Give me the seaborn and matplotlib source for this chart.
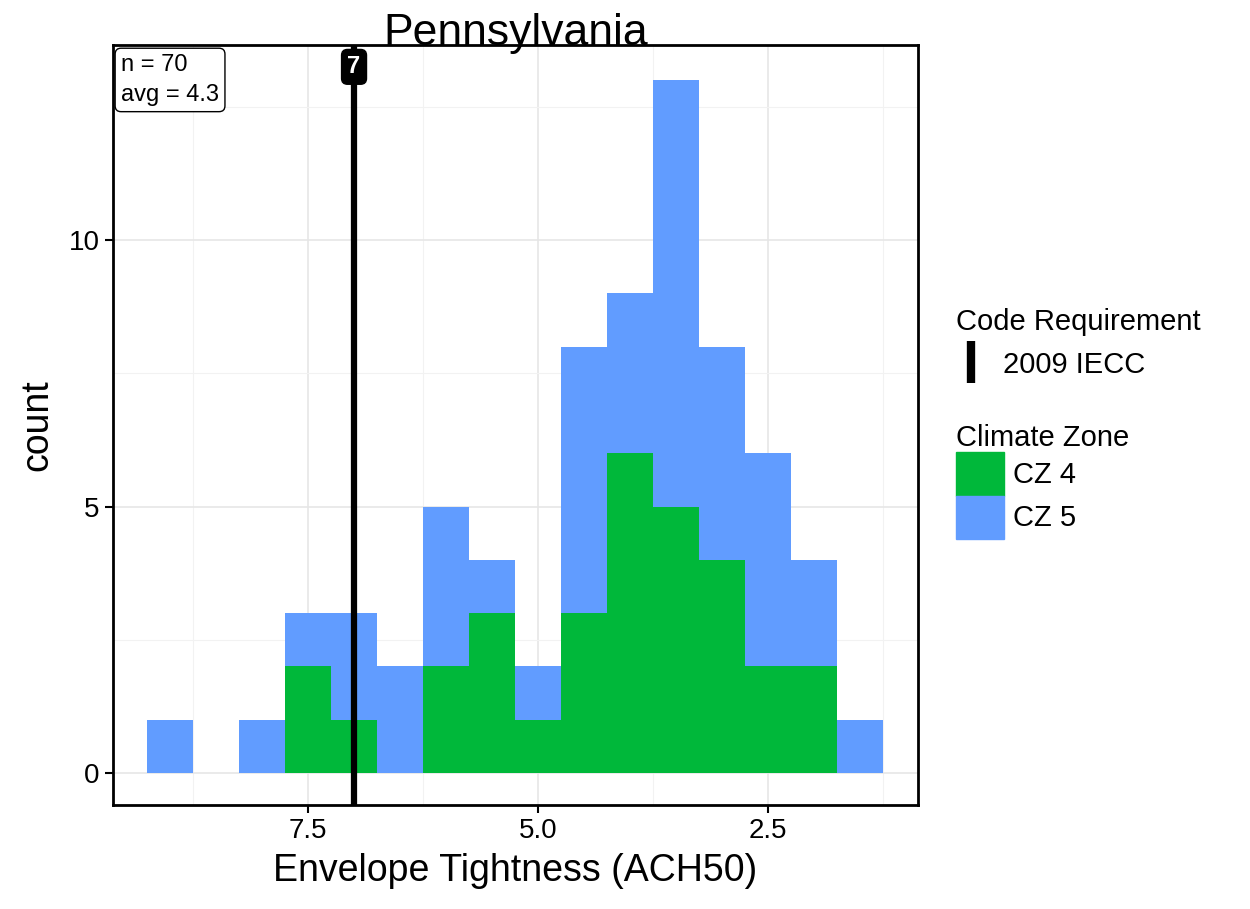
import numpy as np
import pandas as pd
import matplotlib
matplotlib.use("Agg")
import matplotlib.pyplot as plt
import seaborn as sns
from matplotlib.lines import Line2D
from matplotlib.patches import Patch

# DATA
bin_centers = [9.0, 8.5, 8.0, 7.5, 7.0, 6.5, 6.0, 5.5, 5.0, 4.5, 4.0, 3.5, 3.0, 2.5, 2.0, 1.5]
cz4_counts = [0, 0, 0, 2, 1, 0, 2, 3, 1, 3, 6, 5, 4, 2, 2, 0]
cz5_counts = [1, 0, 1, 1, 2, 2, 3, 1, 1, 5, 3, 8, 4, 4, 2, 1]
code_req = 7
n_homes = 70
avg_ach = 4.3

df = pd.DataFrame({
    "ach50": bin_centers * 2,
    "count": cz4_counts + cz5_counts,
    "zone": ["CZ 4"] * len(bin_centers) + ["CZ 5"] * len(bin_centers),
})

green = "#00B83A"
blue = "#619CFF"

# STYLING
sns.set_style("white")
plt.rcParams["font.family"] = ["Liberation Sans", "DejaVu Sans"]
plt.rcParams["text.color"] = "black"
plt.rcParams["axes.labelcolor"] = "black"

fig = plt.figure(figsize=(12.5, 9.09), dpi=100)
ax = fig.add_axes([0.0904, 0.1144, 0.644, 0.8361])

sns.histplot(data=df, x="ach50", weights="count", hue="zone",
             hue_order=["CZ 5", "CZ 4"], multiple="stack",
             binwidth=0.5, binrange=(1.25, 9.25),
             palette={"CZ 4": green, "CZ 5": blue},
             element="bars", linewidth=0, alpha=1, legend=False, ax=ax)

ax.set_xlim(9.62, 0.87)
ax.set_ylim(-0.6, 13.66)

ax.set_xticks([7.5, 5.0, 2.5])
ax.set_xticklabels(["7.5", "5.0", "2.5"])
ax.set_xticks([8.75, 6.25, 3.75, 1.25], minor=True)
ax.set_yticks([0, 5, 10])
ax.set_yticks([2.5, 7.5, 12.5], minor=True)
ax.grid(True, which="major", color="#E6E6E6", lw=1.2)
ax.grid(True, which="minor", color="#F2F2F2", lw=0.8)
ax.set_axisbelow(True)
ax.tick_params(which="major", direction="out", length=6, width=1.5,
               labelsize=20, colors="black", bottom=True, left=True)
ax.tick_params(which="minor", length=0)
for s in ax.spines.values():
    s.set_color("black")
    s.set_linewidth(2)

ax.set_xlabel("Envelope Tightness (ACH50)", fontsize=27, labelpad=6)
ax.set_ylabel("count", fontsize=27, labelpad=10)
ax.set_title("Pennsylvania", fontsize=32, pad=0, color="black")

# code requirement line
ax.axvline(code_req, color="black", lw=4.5, zorder=5)
ax.text(code_req, 13.25, str(code_req), color="white", fontsize=17,
        fontweight="bold", ha="center", va="center", zorder=6,
        bbox=dict(boxstyle="round,pad=0.25", fc="black", ec="black"))

# n / avg box
ax.text(0.01, 0.988, f"n = {n_homes}\navg = {avg_ach}", transform=ax.transAxes,
        fontsize=17, ha="left", va="top", linespacing=1.45, zorder=6,
        bbox=dict(boxstyle="round,pad=0.25", fc="white", ec="black", lw=1))

# legends
h1 = [Line2D([], [], color="black", marker="|", linestyle="None",
             markersize=30, markeredgewidth=6)]
leg1 = fig.legend(h1, ["2009 IECC"], title="Code Requirement",
                  loc="upper left", bbox_to_anchor=(0.744, 0.69),
                  frameon=False, fontsize=21, title_fontsize=21,
                  handlelength=1.0, handletextpad=0.6)
leg1._legend_box.align = "left"

h2 = [Patch(color=green), Patch(color=blue)]
leg2 = fig.legend(h2, ["CZ 4", "CZ 5"], title="Climate Zone",
                  loc="upper left", bbox_to_anchor=(0.744, 0.562),
                  frameon=False, fontsize=21, title_fontsize=21,
                  handlelength=1.65, handleheight=1.9, handletextpad=0.3,
                  labelspacing=0.0)
leg2._legend_box.align = "left"

fig.savefig("out.png", dpi=100)
